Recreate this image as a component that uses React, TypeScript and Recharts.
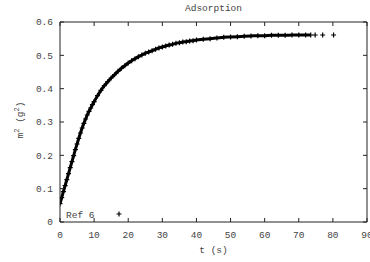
import React from 'react';
import { ComposedChart, Line, Scatter, XAxis, YAxis, Legend } from 'recharts';

const tMain = [
  0, 0.5, 1, 1.5, 2, 2.5, 3, 3.5, 4, 4.5, 5, 5.5, 6, 6.5, 7, 7.5, 8, 8.5, 9, 9.5, 10,
  11, 12, 13, 14, 15, 16, 17, 18, 19, 20,
  21, 22, 23, 24, 25, 26, 27, 28, 29, 30,
  31, 32, 33, 34, 35, 36, 37, 38, 39, 40,
  42, 44, 46, 48, 50, 52, 54, 56, 58, 60, 62, 64, 66, 68, 70, 72,
  73.5,
];
const mMain = [
  0.055, 0.073, 0.091, 0.109, 0.127, 0.145, 0.163, 0.181, 0.199, 0.217, 0.234, 0.251, 0.267, 0.282, 0.296, 0.309, 0.321, 0.332, 0.342, 0.352, 0.361,
  0.379, 0.395, 0.409, 0.421, 0.432, 0.442, 0.452, 0.461, 0.469, 0.477,
  0.484, 0.49, 0.496, 0.501, 0.506, 0.51, 0.514, 0.518, 0.522, 0.525,
  0.528, 0.531, 0.533, 0.536, 0.538, 0.54, 0.541, 0.543, 0.544, 0.546,
  0.548, 0.55, 0.552, 0.554, 0.555, 0.556, 0.557, 0.558, 0.559, 0.559, 0.56, 0.56, 0.56, 0.561, 0.561, 0.561,
  0.561,
];
const tTail = [74.8, 77.0, 80.2];
const mTail = [0.561, 0.561, 0.561];

const xTicks = [0, 10, 20, 30, 40, 50, 60, 70, 80, 90];
const yTicks = [0, 0.1, 0.2, 0.3, 0.4, 0.5, 0.6];
const yTickLabels = ['0', '0.1', '0.2', '0.3', '0.4', '0.5', '0.6'];

const title = 'Adsorption';
const xLabel = 't (s)';
const seriesName = 'Ref 6';

const mainData = tMain.map((t, i) => ({ t, m: mMain[i] }));
const tailData = tTail.map((t, i) => ({ t, m: mTail[i] }));

const FONT = '"Liberation Mono", "DejaVu Sans Mono", monospace';
const TXT = '#444';
const AX = '#222';

const Plus = (props: any) => {
  const { cx, cy } = props;
  if (cx == null || cy == null) return null;
  return (
    <path
      d={`M${cx - 2.5},${cy}h5M${cx},${cy - 2.5}v5`}
      stroke="#000"
      strokeWidth={1.2}
      fill="none"
    />
  );
};

const YLabel = () => (
  <text
    x={23}
    y={120}
    transform="rotate(-90, 23, 120)"
    textAnchor="middle"
    fontFamily={FONT}
    fontSize={9.5}
    fill={TXT}
  >
    <tspan>m</tspan>
    <tspan fontSize={7} dy={-4}>2</tspan>
    <tspan dy={4}> (g</tspan>
    <tspan fontSize={7} dy={-4}>2</tspan>
    <tspan dy={4}>)</tspan>
  </text>
);

const TitleLabel = () => (
  <text x={213.5} y={11} textAnchor="middle" fontFamily={FONT} fontSize={9.5} fill={TXT}>
    {title}
  </text>
);

const EmptyTick = () => <g />;

const LegendContent = () => (
  <svg width={80} height={16} style={{ display: 'block', overflow: 'visible' }}>
    <text x={6} y={11.5} fontFamily={FONT} fontSize={9.5} fill={TXT}>
      {seriesName}
    </text>
    <path d="M56.5,8h5M59,5.5v5" stroke="#000" strokeWidth={1.2} />
  </svg>
);

export default function App() {
  return (
    <div style={{ position: 'absolute', left: 0, top: 0, width: 370, height: 262, background: '#fff' }}>
      <ComposedChart
        width={370}
        height={262}
        margin={{ top: 21, right: 2, bottom: 0, left: 0 }}
      >
        <XAxis
          xAxisId="bottom"
          type="number"
          dataKey="t"
          domain={[0, 90]}
          ticks={xTicks}
          interval={0}
          height={40}
          tickSize={-4}
          tickMargin={13}
          axisLine={{ stroke: AX }}
          tickLine={{ stroke: AX }}
          tick={{ fontFamily: FONT, fontSize: 9.5, fill: TXT }}
          allowDataOverflow
          label={{ value: xLabel, position: 'insideBottom', offset: 9, fontFamily: FONT, fontSize: 9.5, fill: TXT }}
        />
        <XAxis
          xAxisId="top"
          orientation="top"
          type="number"
          dataKey="t"
          domain={[0, 90]}
          ticks={xTicks}
          interval={0}
          height={1}
          tickSize={-4}
          tick={<EmptyTick />}
          axisLine={{ stroke: AX }}
          tickLine={{ stroke: AX }}
          allowDataOverflow
          label={{ content: () => <TitleLabel /> }}
        />
        <YAxis
          yAxisId="left"
          type="number"
          domain={[0, 0.6]}
          ticks={yTicks}
          interval={0}
          width={60}
          tickSize={-4}
          tickMargin={11}
          axisLine={{ stroke: AX }}
          tickLine={{ stroke: AX }}
          tick={{ fontFamily: FONT, fontSize: 9.5, fill: TXT }}
          tickFormatter={(v: number) => yTickLabels[yTicks.indexOf(v)] ?? String(v)}
          allowDataOverflow
          label={{ content: () => <YLabel /> }}
        />
        <YAxis
          yAxisId="right"
          orientation="right"
          type="number"
          domain={[0, 0.6]}
          ticks={yTicks}
          interval={0}
          width={1}
          tickSize={-4}
          tick={<EmptyTick />}
          axisLine={{ stroke: AX }}
          tickLine={{ stroke: AX }}
          allowDataOverflow
        />
        <Line
          xAxisId="bottom"
          yAxisId="left"
          data={mainData}
          dataKey="m"
          type="monotone"
          stroke="#000"
          strokeWidth={3}
          dot={<Plus />}
          isAnimationActive={false}
          legendType="none"
        />
        <Scatter
          xAxisId="top"
          yAxisId="right"
          data={tailData}
          dataKey="m"
          fill="#000"
          shape={<Plus />}
          isAnimationActive={false}
          legendType="none"
        />
        <Legend
          layout="vertical"
          align="center"
          verticalAlign="middle"
          wrapperStyle={{ position: 'absolute', left: 60, top: 206, width: 80, height: 16 }}
          content={() => <LegendContent />}
        />
      </ComposedChart>
    </div>
  );
}
